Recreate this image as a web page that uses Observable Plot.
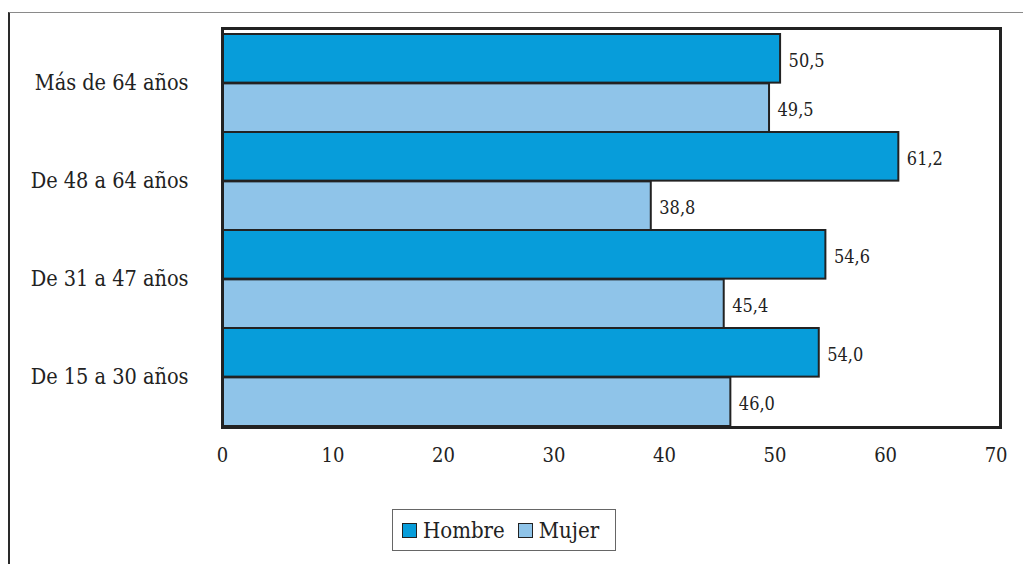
<!DOCTYPE html>
<html><head><meta charset="utf-8">
<script src="https://cdn.jsdelivr.net/npm/d3@7"></script>
<script src="https://cdn.jsdelivr.net/npm/@observablehq/plot@0.6"></script>
<style>
body{margin:0;background:#fff;font-family:"DejaVu Serif Condensed","DejaVu Serif";font-stretch:condensed;color:#222;}
svg text{font-stretch:condensed;}
#wrap{position:absolute;left:8px;top:12px;width:1015px;height:552px;border-left:2px solid #2a2a2a;border-top:1px solid #8a8a8a;}
#chart{position:absolute;left:0;top:0;}
#legend{position:absolute;left:382px;top:496px;width:222px;height:40px;border:1px solid #666;display:flex;align-items:center;font-size:22px;box-sizing:content-box;}
.sw{display:inline-block;width:13px;height:13px;border:1.5px solid #222;margin-right:6px;}
.it{display:flex;align-items:center;}
</style></head>
<body>
<div id="wrap"><div id="chart"></div>
<div id="legend"><span class="it" style="margin-left:9px"><span class="sw" style="background:#079dda"></span>Hombre</span><span class="it" style="margin-left:13px"><span class="sw" style="background:#8fc4e9"></span>Mujer</span></div>
</div>
<script>
const ages = ["Más de 64 años","De 48 a 64 años","De 31 a 47 años","De 15 a 30 años"];
const hombre = [50.5, 61.2, 54.6, 54.0];
const mujer = [49.5, 38.8, 45.4, 46.0];
const xTicks = [0,10,20,30,40,50,60,70];
const colors = {Hombre:"#079dda", Mujer:"#8fc4e9"};

const dataH = ages.map((a,i)=>({age:a, sex:"Hombre", value:hombre[i]}));
const dataM = ages.map((a,i)=>({age:a, sex:"Mujer", value:mujer[i]}));

const width = 1013, height = 470;
const marginTop = 15, marginBottom = 56, marginLeft = 212, marginRight = 23;
const yInsetTop = 4;
const bw = (height - marginTop - marginBottom - yInsetTop) / ages.length;
const fmt = v => v.toFixed(1).replace(".", ",");
const ff = '"DejaVu Serif Condensed","DejaVu Serif"';

const chart = Plot.plot({
  width, height, marginTop, marginBottom, marginLeft, marginRight,
  style:{fontFamily:ff, fontSize:"20px", color:"#222", background:"transparent"},
  x:{domain:[0,70.4]},
  y:{domain:ages, padding:0, insetTop:yInsetTop},
  marks:[
    Plot.barX(dataH, {x:"value", y:"age", fill:colors.Hombre, stroke:"#222", strokeWidth:2, insetBottom:bw/2}),
    Plot.barX(dataM, {x:"value", y:"age", fill:colors.Mujer, stroke:"#222", strokeWidth:2, insetTop:bw/2}),
    Plot.text(dataH, {x:"value", y:"age", text:d=>fmt(d.value), dx:8, dy:-bw/4+2, textAnchor:"start", fontSize:18, fill:"#222", fontFamily:ff}),
    Plot.text(dataM, {x:"value", y:"age", text:d=>fmt(d.value), dx:8, dy:bw/4+2, textAnchor:"start", fontSize:18, fill:"#222", fontFamily:ff}),
    Plot.frame({stroke:"#222", strokeWidth:3}),
    Plot.axisX({ticks:xTicks, tickSize:0, tickPadding:20, label:null, fontSize:20, tickFormat:d=>String(d), fontFamily:ff}),
    Plot.axisY({tickSize:0, tickPadding:34, label:null, fontSize:21.5, fontFamily:ff})
  ]
});
document.getElementById("chart").appendChild(chart);
</script>
</body></html>
